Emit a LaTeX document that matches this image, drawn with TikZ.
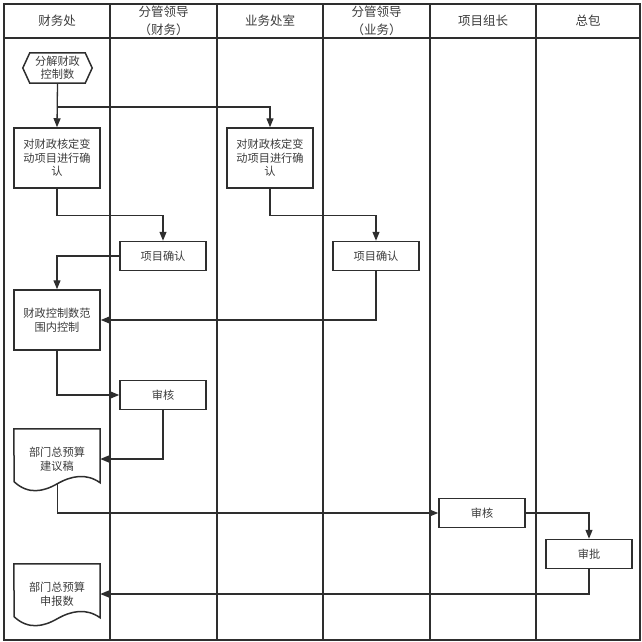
\documentclass[tikz,border=0pt]{standalone}
\usepackage{fontspec}
\setmainfont{Noto Sans CJK SC}
\usepackage{xcolor}
\usepackage{tikz}
\usetikzlibrary{arrows.meta,positioning}
\definecolor{linegray}{HTML}{2E2E2E}
\definecolor{textgray}{HTML}{3C3C3C}

\begin{document}
\begin{tikzpicture}[x=1pt,y=-1pt,
    lane/.style={draw=linegray, line width=2pt},
    head/.style={align=center, text=textgray, font=\fontsize{12.5}{18}\selectfont},
    box/.style={draw=linegray, line width=1.5pt, minimum width=86pt, inner sep=1pt,
        align=center, text=textgray, font=\fontsize{11.2}{13.5}\selectfont},
    tallbox/.style={box, minimum height=60pt},
    flatbox/.style={box, minimum height=29pt},
    hexnode/.style={minimum width=69pt, minimum height=30pt, inner sep=1pt,
        align=center, text=textgray, font=\fontsize{11.2}{13.5}\selectfont},
    docnode/.style={hexnode, minimum width=86pt, minimum height=60pt},
    shapeline/.style={draw=linegray, line width=1.5pt},
    flow/.style={draw=linegray, line width=1.3pt, -{Triangle[length=9pt,width=7pt]}}]
    \useasboundingbox (0,0) rectangle (642,642);

    % Swim lanes
    \draw[lane] (4,4) rectangle (640,640);
    \draw[lane] (4,38) -- (640,38);
    \draw[lane] (110,4) -- (110,640);
    \draw[lane] (217,4) -- (217,640);
    \draw[lane] (323,4) -- (323,640);
    \draw[lane] (430,4) -- (430,640);
    \draw[lane] (536,4) -- (536,640);

    % Lane headers
    \node[head] (hfin) at (57,21) {财务处};
    \node[head] (hlead1) at (163.5,21) {分管领导\\（财务）};
    \node[head] (hbiz) at (270,21) {业务处室};
    \node[head] (hlead2) at (376.5,21) {分管领导\\（业务）};
    \node[head] (hgroup) at (483,21) {项目组长};
    \node[head] (hgen) at (588,21) {总包};

    % Start
    \node[hexnode] (split) at (57.5,68) {分解财政\\控制数};
    \draw[shapeline] (split.west) -- ([xshift=7pt]split.north west)
        -- ([xshift=-7pt]split.north east) -- (split.east)
        -- ([xshift=-7pt]split.south east) -- ([xshift=7pt]split.south west) -- cycle;

    % Steps
    \node[tallbox] (finchk) at (57,158) {对财政核定变\\动项目进行确\\认};
    \node[tallbox] (bizchk) at (270,158) {对财政核定变\\动项目进行确\\认};
    \node[flatbox] (lead1ok) at (163,256) {项目确认};
    \node[flatbox] (lead2ok) at (376,256) {项目确认};
    \node[tallbox] (limit) at (57,320) {财政控制数范\\围内控制};
    \node[flatbox] (audit1) at (163,395) {审核};
    \node[flatbox] (audit2) at (482,513) {审核};
    \node[flatbox] (approve) at (589,554) {审批};

    % Documents
    \node[docnode] (draft) at (57,459) {部门总预算\\建议稿};
    \draw[shapeline] (draft.north west) -- (draft.north east) -- ++(0,54)
        .. controls +(-14,-10) and +(14,-8) .. ++(-43,1) coordinate (draftend)
        .. controls +(-14,8) and +(14,13) .. ++(-43,-2) -- cycle;
    \node[docnode] (report) at (57,594) {部门总预算\\申报数};
    \draw[shapeline] (report.north west) -- (report.north east) -- ++(0,54)
        .. controls +(-14,-10) and +(14,-8) .. ++(-43,1)
        .. controls +(-14,8) and +(14,13) .. ++(-43,-2) -- cycle;

    % Flow
    \coordinate (fork) at (57.5,107);
    \draw[flow] (split.south) -- (finchk.north);
    \draw[flow] (fork) -| (bizchk.north);
    \draw[flow] (finchk.south) -- ++(0,27) -| (lead1ok.north);
    \draw[flow] (bizchk.south) -- ++(0,27) -| (lead2ok.north);
    \draw[flow] (lead1ok.west) -| (limit.north);
    \draw[flow] (lead2ok.south) |- (limit.east);
    \draw[flow] (limit.south) |- (audit1.west);
    \draw[flow] (audit1.south) |- (draft.east);
    \draw[flow] (draftend) |- (audit2.west);
    \draw[flow] (audit2.east) -| (approve.north);
    \draw[flow] (approve.south) |- (report.east);
\end{tikzpicture}
\end{document}
